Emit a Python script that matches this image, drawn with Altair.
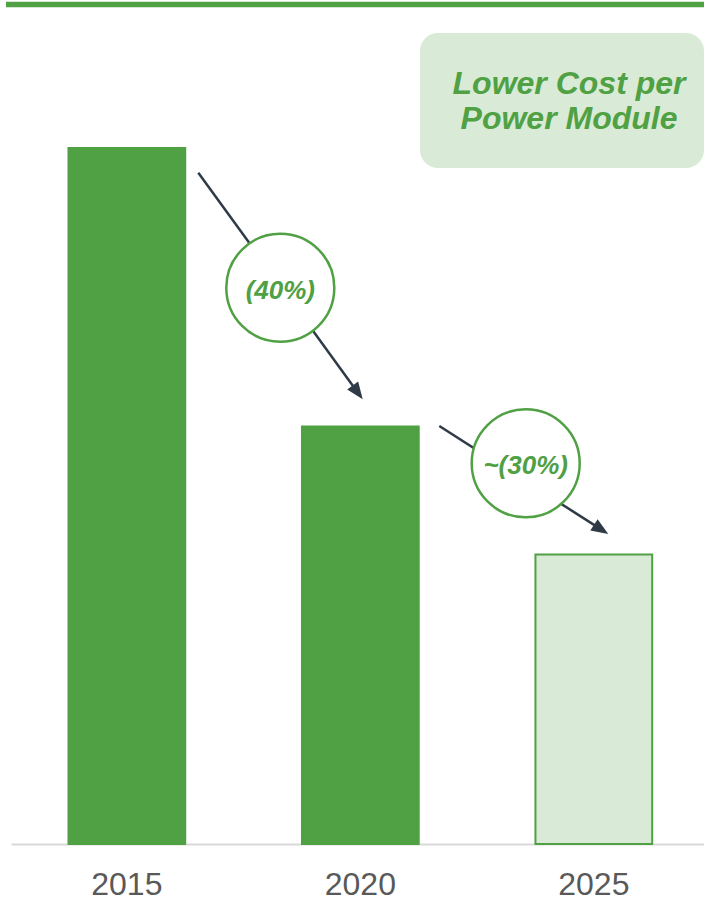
import altair as alt
import pandas as pd

# Bar data: relative cost per power module
years = ["2015", "2020", "2025"]
cost_index = [100, 60, 41.6]
bar_fill = ["#50A044", "#50A044", "#D9EBD6"]

# Annotation text
step_labels = ["(40%)", "~(30%)"]
callout_lines = ["Lower Cost per", "Power Module"]

GREEN = "#50A044"
LIGHT = "#D9EBD6"
ARROW = "#2E3B47"
FONT = "Liberation Sans"

df = pd.DataFrame({"year": years, "cost": cost_index, "fill": bar_fill})
one = pd.DataFrame({"k": [0]})

# Plot area starts 11px from the left edge of the canvas
LEFT = 11

x_scale = alt.Scale(paddingInner=0.5, paddingOuter=0.234, align=0.526)
y_scale = alt.Scale(domain=[0, 121.26], nice=False, zero=True)

bars = alt.Chart(df).mark_bar(stroke=GREEN, strokeWidth=2).encode(
    x=alt.X(
        "year:N",
        sort=years,
        scale=x_scale,
        axis=alt.Axis(
            title=None,
            labelAngle=0,
            ticks=False,
            tickSize=0,
            domainColor="#D9D9D9",
            domainWidth=2,
            labelFontSize=32,
            labelColor="#595959",
            labelFont=FONT,
            labelPadding=25,
        ),
    ),
    y=alt.Y("cost:Q", scale=y_scale, axis=None),
    fill=alt.Fill("fill:N", scale=None),
)

# Green header rule across the top
header = alt.Chart(one).mark_rule(color=GREEN, strokeWidth=5.5).encode(
    x=alt.value(6 - LEFT), x2=alt.value(704 - LEFT), y=alt.value(4.5)
)

# Callout box with title
callout_box = alt.Chart(one).mark_rect(fill=LIGHT, cornerRadius=18).encode(
    x=alt.value(420 - LEFT), x2=alt.value(704 - LEFT),
    y=alt.value(33), y2=alt.value(168),
)
callout_text = alt.Chart(one).mark_text(
    text=callout_lines,
    font=FONT,
    fontSize=32,
    fontWeight="bold",
    fontStyle="italic",
    color=GREEN,
    align="center",
    baseline="alphabetic",
    lineHeight=35,
).encode(x=alt.value(569 - LEFT), y=alt.value(93.5))


def arrow(x0, y0, x1, y1, angle, label, cx, cy, r):
    """Arrow from (x0, y0) to tip (x1, y1) with a labelled circle on it."""
    dx, dy = x1 - x0, y1 - y0
    length = (dx * dx + dy * dy) ** 0.5
    ex, ey = x1 - 10 * dx / length, y1 - 10 * dy / length
    shaft = alt.Chart(one).mark_rule(color=ARROW, strokeWidth=2.5).encode(
        x=alt.value(x0 - LEFT), y=alt.value(y0),
        x2=alt.value(ex - LEFT), y2=alt.value(ey),
    )
    head = alt.Chart(one).mark_point(
        shape="M0,0L-0.4,1L0.4,1Z",
        filled=True,
        fill=ARROW,
        opacity=1,
        strokeWidth=0,
        size=1156,
        angle=angle,
    ).encode(x=alt.value(x1 - LEFT), y=alt.value(y1))
    ring = alt.Chart(one).mark_circle(
        size=(2 * r) ** 2, fill="white", stroke=GREEN, strokeWidth=2.5, opacity=1
    ).encode(x=alt.value(cx - LEFT), y=alt.value(cy))
    text = alt.Chart(one).mark_text(
        text=label,
        font=FONT,
        fontSize=26,
        fontWeight="bold",
        fontStyle="italic",
        color=GREEN,
        align="center",
        baseline="middle",
    ).encode(x=alt.value(cx - LEFT), y=alt.value(cy + 3))
    return [shaft, head, ring, text]


arrow1 = arrow(198.3, 172.7, 362.7, 399.3, 143.8, step_labels[0], 280.3, 287.7, 54)
arrow2 = arrow(439.3, 426.0, 608.3, 534.0, 122.5, step_labels[1], 525.7, 463.3, 54)

chart = alt.layer(
    header, callout_box, callout_text, bars, *arrow1, *arrow2
).properties(
    width=693,
    height=844,
    padding={"left": LEFT, "top": 0, "right": 0, "bottom": 57},
    autosize=alt.AutoSizeParams(type="none"),
    background="white",
).configure_view(stroke=None)

chart.save("out.html", embed_options={"renderer": "svg", "actions": False})
